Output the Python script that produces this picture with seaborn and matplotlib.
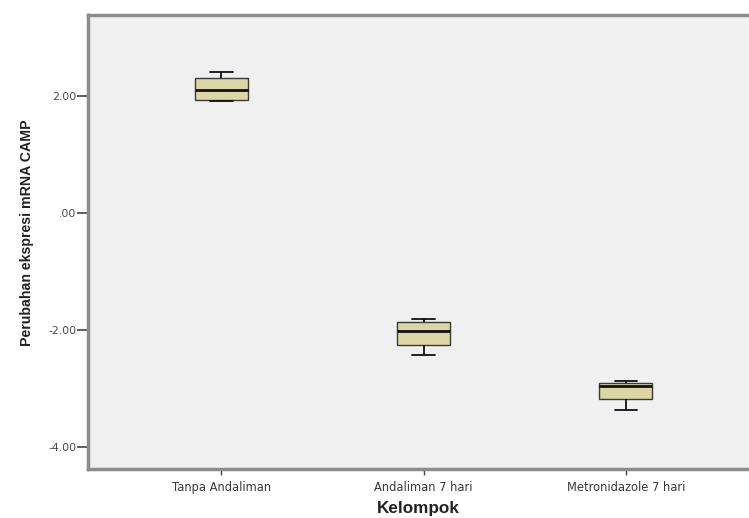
import matplotlib
matplotlib.use("Agg")
import matplotlib.pyplot as plt
import seaborn as sns
import pandas as pd

# Change in CAMP mRNA expression per group (five observations each)
groups = ["Tanpa Andaliman", "Andaliman 7 hari", "Metronidazole 7 hari"]
tanpa_andaliman = [1.91, 1.94, 2.11, 2.32, 2.41]
andaliman_7_hari = [-2.43, -2.25, -2.01, -1.86, -1.82]
metronidazole_7_hari = [-3.37, -3.19, -2.96, -2.90, -2.87]

y_ticks = [2.0, 0.0, -2.0, -4.0]
y_tick_labels = ["2.00", ".00", "-2.00", "-4.00"]

df = pd.DataFrame({
    "Kelompok": [groups[0]] * len(tanpa_andaliman)
    + [groups[1]] * len(andaliman_7_hari)
    + [groups[2]] * len(metronidazole_7_hari),
    "value": tanpa_andaliman + andaliman_7_hari + metronidazole_7_hari,
})

sns.set_theme(style="white")
plt.rcParams["font.family"] = ["DejaVu Sans"]

fig = plt.figure(figsize=(7.49, 5.18), dpi=100)
ax = fig.add_axes([88 / 749, 49 / 518, 1 - 88 / 749, (469 - 15) / 518])
ax.set_facecolor("#f0f0f0")

sns.boxplot(
    data=df, x="Kelompok", y="value", order=groups, ax=ax,
    width=0.26, color="#dbd6a3", linewidth=1.0, linecolor="#222222",
    capwidths=0.11,
    boxprops=dict(facecolor="#dbd6a3", edgecolor="#3a3a3a"),
    medianprops=dict(color="#111111", linewidth=2.0),
    whiskerprops=dict(color="#111111", linewidth=1.3),
    capprops=dict(color="#111111", linewidth=1.3),
)

ax.set_xlim(-0.66, 2.61)
ax.set_ylim(-4.38, 3.39)
ax.set_yticks(y_ticks)
ax.set_yticklabels(y_tick_labels)

for side in ["left", "top", "bottom"]:
    ax.spines[side].set_visible(True)
    ax.spines[side].set_color("#8c8c8c")
    ax.spines[side].set_linewidth(2.5)
ax.spines["right"].set_visible(False)

ax.tick_params(axis="y", which="both", left=True, length=7.6, width=1.2,
               color="#444444", labelsize=7.8, labelcolor="#4a4a4a", pad=0.5)
ax.tick_params(axis="x", which="both", bottom=True, length=4, width=1.0,
               color="#444444", labelsize=8.3, labelcolor="#3a3a3a", pad=4.5)

ax.set_xlabel("Kelompok", fontsize=12.3, fontweight="bold", color="#222222",
              labelpad=5, family=["Liberation Sans", "DejaVu Sans"])
ax.set_ylabel("Perubahan ekspresi mRNA CAMP", fontsize=10.2, fontweight="bold",
              color="#222222", family=["Liberation Sans", "DejaVu Sans"])
ax.yaxis.set_label_coords(-0.0817, 0.52)

fig.savefig("out.png", dpi=100)
